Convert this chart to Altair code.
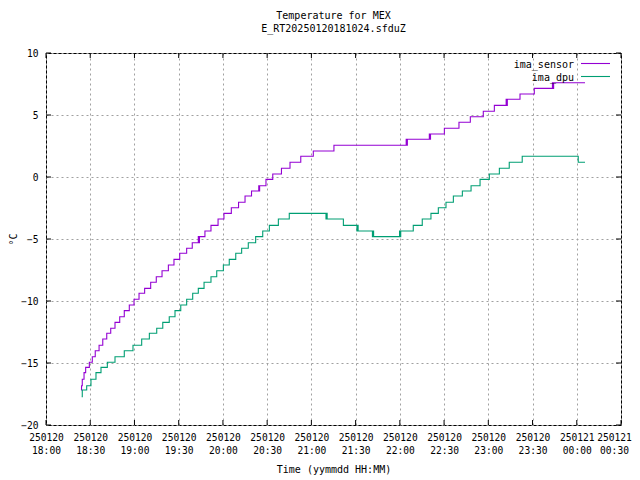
import altair as alt
import pandas as pd

# ---------------- data ----------------
series_names = ["ima_sensor", "ima_dpu"]
series_colors = ["#9400d3", "#009e73"]

# minutes after 2025-01-20 18:00 at which each step starts, and the step value (degC)
sensor_min = [23.7, 24.1, 24.6, 25.8, 26.9, 29.4, 31.4, 33.4, 36.0, 38.5,
              41.2, 43.9, 46.8, 50.0, 53.1, 56.5, 59.7, 63.1, 66.9, 71.0,
              74.8, 78.7, 83.0, 86.8, 90.7, 95.4, 99.2, 103.3, 103.7, 104.1,
              107.8, 111.9, 116.7, 120.7, 125.7, 130.6, 135.0, 139.4, 144.3, 144.6,
              144.9, 149.2, 153.8, 159.7, 165.5, 172.8, 181.3, 195.3, 244.3, 244.7,
              245.1, 260.0, 260.4, 260.8, 270.2, 280.1, 287.8, 296.6, 304.1, 312.1,
              312.5, 312.9, 321.5, 331.2, 343.5, 343.9, 344.3, 365.6]
sensor_val = [-17.18, -16.83, -16.31, -15.78, -15.35, -14.94, -14.49, -14.01, -13.57, -13.06,
              -12.60, -12.20, -11.72, -11.27, -10.78, -10.32, -9.86, -9.38, -8.98, -8.49,
              -8.04, -7.56, -7.10, -6.64, -6.15, -5.75, -5.30, -4.81, -5.30, -4.81,
              -4.35, -3.90, -3.39, -2.93, -2.48, -2.04, -1.53, -1.13, -0.70, -1.13,
              -0.70, -0.19, 0.24, 0.70, 1.19, 1.67, 2.10, 2.56, 3.04, 2.56,
              3.04, 3.47, 3.04, 3.47, 3.93, 4.41, 4.86, 5.30, 5.78, 6.27,
              5.78, 6.27, 6.69, 7.15, 7.60, 7.15, 7.60, 7.60]

dpu_min = [24.2, 24.6, 27.6, 30.5, 33.9, 37.3, 41.6, 46.8, 53.1, 59.0,
           64.9, 70.1, 75.1, 79.2, 83.6, 87.5, 91.4, 95.4, 99.5, 103.3,
           107.2, 111.9, 115.8, 120.3, 124.3, 128.7, 132.7, 137.2, 142.2, 147.0,
           151.5, 157.6, 165.0, 189.9, 190.3, 190.7, 201.7, 210.9, 211.3, 211.7,
           221.4, 221.8, 222.2, 239.8, 240.2, 240.6, 249.1, 255.2, 261.1, 266.1,
           271.3, 276.3, 282.4, 288.3, 294.4, 300.7, 307.5, 314.2, 323.0, 361.0,
           365.6]
dpu_val = [-17.71, -17.18, -16.83, -16.31, -15.78, -15.35, -14.94, -14.49, -14.01, -13.57,
           -13.06, -12.60, -12.20, -11.72, -11.27, -10.78, -10.32, -9.86, -9.38, -8.98,
           -8.49, -8.04, -7.56, -7.10, -6.64, -6.15, -5.75, -5.30, -4.81, -4.35,
           -3.90, -3.39, -2.93, -3.39, -2.93, -3.39, -3.90, -4.35, -3.90, -4.35,
           -4.81, -4.35, -4.81, -4.35, -4.81, -4.35, -3.90, -3.39, -2.93, -2.48,
           -2.04, -1.53, -1.13, -0.70, -0.19, 0.24, 0.70, 1.19, 1.67, 1.19,
           1.19]

x_tick_minutes = [0, 30, 60, 90, 120, 150, 180, 210, 240, 270, 300, 330, 360, 390]
y_tick_values = [-20, -15, -10, -5, 0, 5, 10]

title_lines = ["Temperature for MEX", "E_RT20250120181024.sfduZ"]
x_title = "Time (yymmdd HH:MM)"
y_title = "°C"

# ---------------- build tables ----------------
base = pd.Timestamp("2025-01-20 18:00:00")


def to_time(mins):
    return (base + pd.to_timedelta(pd.Series(mins), unit="min")).dt.strftime("%Y-%m-%dT%H:%M:%S")


df = pd.concat([
    pd.DataFrame({"t": to_time(sensor_min), "v": sensor_val, "series": series_names[0]}),
    pd.DataFrame({"t": to_time(dpu_min), "v": dpu_val, "series": series_names[1]}),
], ignore_index=True)

xt = pd.DataFrame({"t": to_time(x_tick_minutes)})
yt = pd.DataFrame({"v": y_tick_values})


def dt(m):
    ts = base + pd.Timedelta(minutes=m)
    return alt.DateTime(year=ts.year, month=ts.month, date=ts.day, hours=ts.hour, minutes=ts.minute)


x_domain = [dt(x_tick_minutes[0]), dt(x_tick_minutes[-1])]
x_values = [dt(m) for m in x_tick_minutes]

W, H = 575, 372
FONT = "DejaVu Sans Mono"
FS = 10
LFS = 9.6
TICK = 5

x_scale = alt.Scale(domain=x_domain, nice=False)
y_scale = alt.Scale(domain=[-20, 10], nice=False, zero=False)

x_axis = alt.Axis(values=x_values, grid=True, ticks=False, tickSize=0, domain=False,
                  labelExpr="[timeFormat(datum.value, '%y%m%d'), timeFormat(datum.value, '%H:%M')]",
                  labelPadding=7, labelLineHeight=13, labelFlush=False, labelOverlap=False,
                  labelOffset={"condition": {"test": "datum.value >= datetime(2025, 0, 21, 0, 29)", "value": -7},
                               "value": 0},
                  title=x_title, titlePadding=10)
y_axis = alt.Axis(values=y_tick_values, grid=True, ticks=False, tickSize=0, domain=False,
                  labelPadding=8, title=y_title, titlePadding=2, labelFlush=False)

lines = alt.Chart(df).mark_line(interpolate="step-after", strokeWidth=1.1).encode(
    x=alt.X("t:T", scale=x_scale, axis=x_axis),
    y=alt.Y("v:Q", scale=y_scale, axis=y_axis),
    color=alt.Color("series:N", scale=alt.Scale(domain=series_names, range=series_colors), legend=None),
    detail="series:N",
    order=alt.Order("t:T"),
)

tick_style = dict(color="black", strokeWidth=1)
xb = alt.Chart(xt).mark_rule(**tick_style).encode(x=alt.X("t:T", scale=x_scale), y=alt.value(H), y2=alt.value(H - TICK))
xtop = alt.Chart(xt).mark_rule(**tick_style).encode(x=alt.X("t:T", scale=x_scale), y=alt.value(0), y2=alt.value(TICK))
yl = alt.Chart(yt).mark_rule(**tick_style).encode(y=alt.Y("v:Q", scale=y_scale), x=alt.value(0), x2=alt.value(TICK))
yr = alt.Chart(yt).mark_rule(**tick_style).encode(y=alt.Y("v:Q", scale=y_scale), x=alt.value(W), x2=alt.value(W - TICK))

legend_layers = []
for i, (name, col) in enumerate(zip(series_names, series_colors)):
    ld = pd.DataFrame({"series": [name]})
    ty = 10.5 + i * 13
    legend_layers.append(
        alt.Chart(ld).mark_text(align="right", baseline="middle", font=FONT, fontSize=FS, color="black").encode(
            text="series:N", x=alt.value(528), y=alt.value(ty + 1))
    )
    legend_layers.append(
        alt.Chart(ld).mark_rule(color=col, strokeWidth=1.1).encode(
            x=alt.value(535), x2=alt.value(564), y=alt.value(ty))
    )

chart = alt.layer(lines, xb, xtop, yl, yr, *legend_layers).properties(
    width=W, height=H,
    title=alt.TitleParams(title_lines, anchor="middle", font=FONT, fontSize=FS, fontWeight="normal",
                          color="black", lineHeight=13, offset=14),
    autosize=alt.AutoSizeParams(type="none"),
    padding={"left": 38, "top": 45, "right": 11, "bottom": 53},
    background="white",
).configure_view(
    stroke="black", strokeWidth=1
).configure_axis(
    labelFont=FONT, labelFontSize=LFS, labelColor="black",
    titleFont=FONT, titleFontSize=FS, titleFontWeight="normal", titleColor="black",
    gridColor="#a0a0a0", gridDash=[2, 3], gridWidth=1, gridOpacity=1,
)

chart.save("out.html", embed_options={"renderer": "svg", "actions": False})
